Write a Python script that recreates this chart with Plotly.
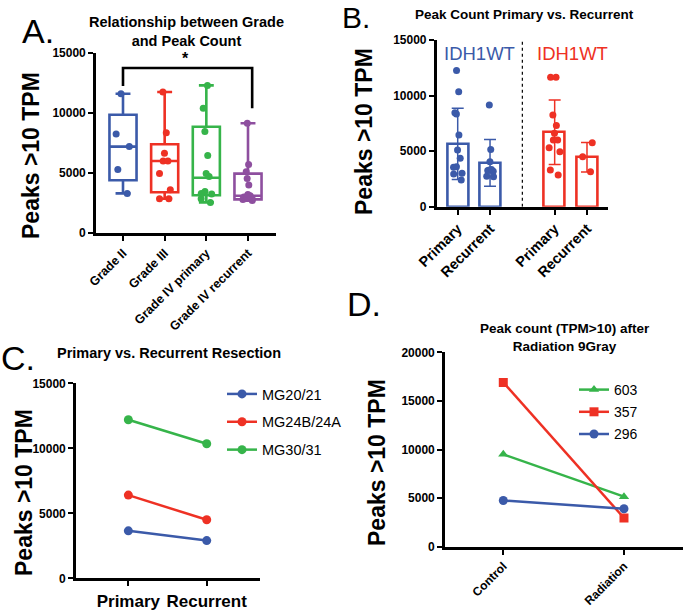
import plotly.graph_objects as go
import numpy as np

# ---------------- data ----------------
grade_categories = ["Grade II", "Grade III", "Grade IV primary", "Grade IV recurrent"]
grade2_pts = [11600, 8250, 7200, 5300, 3300]
grade3_pts = [11750, 8350, 6650, 6000, 6000, 4950, 3600, 2850, 2850]
grade4p_pts = [12300, 10400, 8450, 6450, 4950, 4700, 3450, 3300, 3250, 2850, 2550]
grade4r_pts = [9150, 5700, 5100, 4550, 4000, 3200, 3100, 3050, 3000, 2900, 2800, 2700]
grade_q1 = [4400, 3400, 3150, 2800]
grade_median = [7200, 6000, 4600, 3100]
grade_q3 = [9850, 7400, 8850, 4950]

b_tick_labels = ["Primary", "Recurrent", "Primary", "Recurrent"]
b_group_labels = ["IDH1WT", "IDH1WT"]
blue_primary_pts = [12250, 10350, 8450, 8350, 6450, 5100, 4350, 3600, 3550, 3000, 2950, 2400]
blue_recurrent_pts = [9150, 5150, 4050, 3350, 3300, 3250, 3200, 2750, 2700]
red_primary_pts = [11650, 11650, 8250, 7300, 6600, 6000, 6000, 5300, 4950, 3300, 2850]
red_recurrent_pts = [5750, 4500, 3150]
bar_means = [5650, 3950, 6700, 4450]
bar_sd = [3200, 2100, 2900, 1320]

c_categories = ["Primary", "Recurrent"]
c_series_names = ["MG20/21", "MG24B/24A", "MG30/31"]
mg20_21 = [3650, 2900]
mg24b_24a = [6400, 4500]
mg30_31 = [12200, 10350]

d_categories = ["Control", "Radiation"]
d_series_names = ["603", "357", "296"]
s603 = [9500, 5150]
s357 = [16900, 2950]
s296 = [4750, 3900]

# ---------------- style ----------------
W, H = 685, 613
BLUE = "#3b5aa9"
RED = "#ee3124"
GREEN = "#36b44a"
PURPLE = "#8e4f9f"
FONT = "Liberation Sans"
grade_colors = [BLUE, RED, GREEN, PURPLE]


def px(x):
    return x / W


def py(y):
    return 1 - y / H


fig = go.Figure()

# ---------------- Panel A: box plots ----------------
grade_pts = [grade2_pts, grade3_pts, grade4p_pts, grade4r_pts]
for i, cat in enumerate(grade_categories):
    pts = grade_pts[i]
    fig.add_trace(go.Box(
        x=[cat], q1=[grade_q1[i]], median=[grade_median[i]], q3=[grade_q3[i]],
        lowerfence=[min(pts)], upperfence=[max(pts)],
        boxpoints=False, width=0.65, whiskerwidth=0.55,
        line=dict(color=grade_colors[i], width=2.6),
        fillcolor="rgba(0,0,0,0)", showlegend=False, hoverinfo="skip",
        xaxis="x", yaxis="y"))
    fig.add_trace(go.Box(
        x=[cat] * len(pts), y=pts, boxpoints="all", jitter=0.6, pointpos=0,
        width=0.65, line=dict(color="rgba(0,0,0,0)", width=0),
        fillcolor="rgba(0,0,0,0)",
        marker=dict(color=grade_colors[i], size=7, opacity=1),
        showlegend=False, xaxis="x", yaxis="y"))

# ---------------- Panel B: bars with SD and points ----------------
b_positions = [0, 1, 3, 4]
b_pts = [blue_primary_pts, blue_recurrent_pts, red_primary_pts, red_recurrent_pts]
b_colors = [BLUE, BLUE, RED, RED]
for g in range(2):
    idx = [2 * g, 2 * g + 1]
    col = b_colors[2 * g]
    fig.add_trace(go.Bar(
        x=[b_positions[k] for k in idx], y=[bar_means[k] for k in idx],
        width=0.65, marker=dict(color="white", line=dict(color=col, width=2.6)),
        error_y=dict(type="data", array=[bar_sd[k] for k in idx], visible=True,
                     color=col, thickness=1.5, width=6),
        showlegend=False, xaxis="x2", yaxis="y2"))
for k in range(4):
    pts = b_pts[k]
    fig.add_trace(go.Box(
        x=[b_positions[k]] * len(pts), y=pts, boxpoints="all", jitter=0.7,
        pointpos=0, width=0.6, line=dict(color="rgba(0,0,0,0)", width=0),
        fillcolor="rgba(0,0,0,0)",
        marker=dict(color=b_colors[k], size=7, opacity=1),
        showlegend=False, xaxis="x2", yaxis="y2"))

# ---------------- Panel C: paired lines ----------------
c_series = [mg20_21, mg24b_24a, mg30_31]
c_colors = [BLUE, RED, GREEN]
for i, (name, vals) in enumerate(zip(c_series_names, c_series)):
    fig.add_trace(go.Scatter(
        x=[0, 1], y=vals, mode="lines+markers", name=name,
        line=dict(color=c_colors[i], width=2.5),
        marker=dict(color=c_colors[i], size=9, symbol="circle"),
        legend="legend", legendgroup=name, xaxis="x3", yaxis="y3"))

# ---------------- Panel D: radiation lines ----------------
d_series = [s603, s357, s296]
d_colors = [GREEN, RED, BLUE]
d_symbols = ["triangle-up", "square", "circle"]
for i, (name, vals) in enumerate(zip(d_series_names, d_series)):
    fig.add_trace(go.Scatter(
        x=[0, 1], y=vals, mode="lines+markers", name=name,
        line=dict(color=d_colors[i], width=2.5),
        marker=dict(color=d_colors[i], size=9, symbol=d_symbols[i]),
        legend="legend2", legendgroup="d" + name, xaxis="x4", yaxis="y4"))

# ---------------- axes ----------------
axis_common = dict(showline=True, linecolor="black", linewidth=2.6,
                   ticks="outside", ticklen=5, tickwidth=2, tickcolor="black",
                   showgrid=False, zeroline=False, mirror=False, automargin=False,
                   tickfont=dict(family=FONT, size=12, color="black", weight="bold"))

fig.update_layout(
    width=W, height=H, margin=dict(l=0, r=0, t=0, b=0), autosize=False,
    paper_bgcolor="white", plot_bgcolor="white", boxmode="overlay",
    barmode="overlay", bargap=0,
    xaxis=dict(axis_common, type="category", domain=[px(96), px(276)],
               range=[-0.648, 3.672], tickangle=-45, anchor="y",
               categoryorder="array", categoryarray=grade_categories,
               tickfont=dict(family=FONT, size=12.5, color="black", weight="bold")),
    yaxis=dict(axis_common, domain=[py(233), py(53)], range=[0, 15000],
               dtick=5000, tickformat="d", anchor="x"),
    xaxis2=dict(axis_common, domain=[px(436.7), px(608)], range=[-0.65, 4.65],
                tickvals=b_positions, ticktext=b_tick_labels, tickangle=-45,
                anchor="y2",
                tickfont=dict(family=FONT, size=14.5, color="black", weight="bold")),
    yaxis2=dict(axis_common, domain=[py(206.7), py(40)], range=[0, 15000],
                dtick=5000, tickformat="d", anchor="x2"),
    xaxis3=dict(axis_common, domain=[px(76), px(260)], range=[-0.668, 1.68],
                tickvals=[0, 1], ticktext=c_categories, tickangle=0, anchor="y3",
                tickfont=dict(family=FONT, size=17, color="black", weight="bold")),
    yaxis3=dict(axis_common, domain=[py(578.3), py(383.3)], range=[0, 15000],
                dtick=5000, tickformat="d", anchor="x3"),
    xaxis4=dict(axis_common, domain=[px(445), px(683)], range=[-0.483, 1.489],
                tickvals=[0, 1], ticktext=d_categories, tickangle=-45, anchor="y4",
                tickfont=dict(family=FONT, size=12, color="black", weight="bold")),
    yaxis4=dict(axis_common, domain=[py(546.7), py(352.3)], range=[0, 20000],
                dtick=5000, tickformat="d", anchor="x4"),
    legend=dict(x=px(222), y=py(378), xanchor="left", yanchor="top",
                font=dict(family=FONT, size=14.5, color="black"),
                bgcolor="rgba(0,0,0,0)", tracegroupgap=6, itemwidth=30),
    legend2=dict(x=px(574), y=py(374), xanchor="left", yanchor="top",
                 font=dict(family=FONT, size=14, color="black"),
                 bgcolor="rgba(0,0,0,0)", tracegroupgap=1, itemwidth=30),
)

# dotted separator in panel B
fig.add_shape(type="line", xref="x2", yref="y2", x0=2, x1=2, y0=0, y1=15000,
              line=dict(color="black", width=1.2, dash="dot"))

# significance bracket in panel A
fig.add_shape(type="path", xref="x", yref="y",
              path="M 0,12250 L 0,13750 L 3.1,13750 L 3.1,10400",
              line=dict(color="black", width=2.6))

ann = []


def add_text(text, x, y, size, bold=False, color="black", angle=0):
    ann.append(dict(text=("<b>%s</b>" % text) if bold else text,
                    x=px(x), y=py(y), xref="paper", yref="paper",
                    xanchor="center", yanchor="middle", showarrow=False,
                    textangle=angle,
                    font=dict(family=FONT, size=size, color=color)))


# panel letters
add_text("A.", 38, 31, 34)
add_text("B.", 356, 18, 30)
add_text("C.", 18, 358, 34)
add_text("D.", 364, 304, 34)

# titles
add_text("Relationship between Grade<br>and Peak Count", 186, 32, 14.5, bold=True)
add_text("Peak Count Primary vs. Recurrent", 524, 14, 13.5, bold=True)
add_text("Primary vs. Recurrent Resection", 169, 353, 14.5, bold=True)
add_text("Peak count (TPM>10) after<br>Radiation 9Gray", 565, 337, 13.5, bold=True)

# y-axis titles
add_text("Peaks >10 TPM", 31, 156, 23, bold=True, angle=-90)
add_text("Peaks >10 TPM", 364, 132, 23, bold=True, angle=-90)
add_text("Peaks >10 TPM", 24, 493, 23, bold=True, angle=-90)
add_text("Peaks >10 TPM", 377, 463, 23, bold=True, angle=-90)

# significance star
add_text("*", 185, 58, 16, bold=True)

# group labels in panel B
add_text(b_group_labels[0], 479, 53, 18.5, color=BLUE)
add_text(b_group_labels[1], 572, 53, 18.5, color=RED)

fig.update_layout(annotations=ann)

fig.write_html("out.html",
               config={"displayModeBar": False},
               post_script="document.body.style.margin='0';"
                           "document.body.style.overflow='hidden';")
